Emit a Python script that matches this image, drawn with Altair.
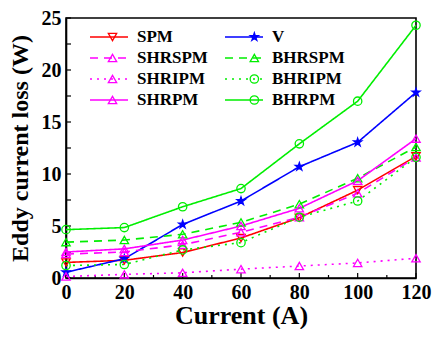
import altair as alt
import pandas as pd
import math

current = [0, 20, 40, 60, 80, 100, 120]
series_order = ["SPM", "V", "SHRSPM", "BHRSPM", "SHRIPM", "BHRIPM", "SHRPM", "BHRPM"]
SPM = [1.5, 1.7, 2.45, 3.85, 5.8, 8.45, 11.7]
V = [0.55, 1.85, 5.15, 7.4, 10.7, 13.05, 17.85]
SHRSPM = [2.3, 2.5, 3.2, 4.4, 5.85, 8.15, 11.6]
BHRSPM = [3.45, 3.65, 4.2, 5.35, 7.1, 9.6, 12.6]
SHRIPM = [0.15, 0.35, 0.5, 0.85, 1.15, 1.45, 1.9]
BHRIPM = [1.2, 1.3, 2.7, 3.4, 5.85, 7.4, 11.6]
SHRPM = [2.5, 2.8, 3.65, 5.0, 6.7, 9.35, 13.4]
BHRPM = [4.65, 4.85, 6.85, 8.6, 12.9, 17.0, 24.3]

y_ticks = [0, 5, 10, 15, 20, 25]
x_minor = [10, 30, 50, 70, 90, 110]
y_minor = [2.5, 7.5, 12.5, 17.5, 22.5]

values = {"SPM": SPM, "V": V, "SHRSPM": SHRSPM, "BHRSPM": BHRSPM,
          "SHRIPM": SHRIPM, "BHRIPM": BHRIPM, "SHRPM": SHRPM, "BHRPM": BHRPM}
rows = []
for s in series_order:
    for c, v in zip(current, values[s]):
        rows.append({"current": c, "loss": v, "series": s})
df = pd.DataFrame(rows)

colors = ["#FF0000", "#0000FF", "#FF00FF", "#00EE00", "#FF00FF", "#00EE00", "#FF00FF", "#00EE00"]
dashes = [[1, 0], [1, 0], [8, 6], [8, 6], [2, 5], [2, 5], [1, 0], [1, 0]]
star = ("M0,-1L0.223,-0.307L0.951,-0.309L0.361,0.117L0.588,0.809L0,0.38"
        "L-0.588,0.809L-0.361,0.117L-0.951,-0.309L-0.223,-0.307Z")
shapes = ["triangle-down", star, "triangle-up", "triangle-up", "triangle-up",
          "circle", "triangle-up", "circle"]
fills = ["transparent", "#0000FF", "transparent", "transparent", "transparent",
         "transparent", "transparent", "transparent"]

FONT = "Liberation Serif"
W, H = 350, 260
LX, LY = 23, 9
LINE_SIZE = 38 * 38
LINE_SW = 1.6
PT_SIZE = 70
PT_SW = 1.3
OFF = 8
LABEL_FS = 17
CP = 16
ws = math.ceil(math.sqrt(LINE_SIZE) + LINE_SW)
wp = math.ceil(math.sqrt(PT_SIZE) + PT_SW)
shift = ws / 2 - wp / 2
lw_col1 = 4.167 * LABEL_FS  # width of "SHRSPM" in a Times-metric bold font

common_leg = dict(orient="none", columns=2, direction="horizontal", title=None,
                  labelFont=FONT, labelFontWeight="bold", labelFontSize=LABEL_FS,
                  labelColor="black", rowPadding=1, symbolLimit=0, clipHeight=20)

line_leg = alt.Legend(legendX=LX, legendY=LY, symbolType="stroke",
                      symbolSize=LINE_SIZE, symbolStrokeWidth=LINE_SW,
                      labelOffset=OFF, columnPadding=CP, **common_leg)
point_leg = alt.Legend(legendX=LX + shift, legendY=LY,
                       symbolSize=PT_SIZE, symbolStrokeWidth=PT_SW,
                       labelOffset=0, labelExpr="''",
                       columnPadding=ws - wp + OFF + lw_col1 + CP,
                       **common_leg)

x = alt.X("current:Q", title="Current (A)",
          scale=alt.Scale(domain=[0, 120], nice=False),
          axis=alt.Axis(values=current, grid=False, labelFlush=False))
y = alt.Y("loss:Q", title="Eddy current loss (W)",
          scale=alt.Scale(domain=[0, 25], nice=False),
          axis=alt.Axis(values=y_ticks, grid=False, labelFlush=False))

cscale = alt.Scale(domain=series_order, range=colors)

lines = alt.Chart(df).mark_line(strokeWidth=1.6).encode(
    x=x, y=y,
    color=alt.Color("series:N", scale=cscale, legend=line_leg),
    strokeDash=alt.StrokeDash("series:N",
                              scale=alt.Scale(domain=series_order, range=dashes),
                              legend=line_leg),
)

points = alt.Chart(df).mark_point(filled=False, size=PT_SIZE, strokeWidth=PT_SW, opacity=1).encode(
    x=x, y=y,
    color=alt.Color("series:N", scale=cscale, legend=point_leg),
    shape=alt.Shape("series:N",
                    scale=alt.Scale(domain=series_order, range=shapes),
                    legend=point_leg),
    fill=alt.Fill("series:N",
                  scale=alt.Scale(domain=series_order, range=fills),
                  legend=point_leg),
)

# inward axis ticks (major and minor)
x_tick_major = alt.Chart(pd.DataFrame({"current": current})).mark_rule(
    color="black", strokeWidth=1.2).encode(
    x=alt.X("current:Q"), y=alt.value(H), y2=alt.value(H - 5))
x_tick_minor = alt.Chart(pd.DataFrame({"current": x_minor})).mark_rule(
    color="black", strokeWidth=1.2).encode(
    x=alt.X("current:Q"), y=alt.value(H), y2=alt.value(H - 3))
y_tick_all = alt.Chart(pd.DataFrame({"loss": y_ticks + y_minor})).mark_rule(
    color="black", strokeWidth=1.2).encode(
    y=alt.Y("loss:Q"), x=alt.value(0), x2=alt.value(5))

chart = alt.layer(x_tick_major, x_tick_minor, y_tick_all, lines, points).resolve_legend(
    color="independent", shape="independent", strokeDash="independent", fill="independent"
).properties(
    width=W, height=H,
    autosize=alt.AutoSizeParams(type="none"),
    padding={"left": 58, "top": 10, "right": 16, "bottom": 51},
).configure_view(
    stroke="black", strokeWidth=1.6
).configure_axis(
    domainColor="black", domainWidth=1.6, ticks=False, tickSize=0,
    labelFont=FONT, labelFontWeight="bold", labelFontSize=20,
    labelColor="black", titleFont=FONT, titleFontWeight="bold",
    titleColor="black",
).configure_axisX(labelPadding=4, titlePadding=0, titleFontSize=26).configure_axisY(
    labelPadding=5, titlePadding=9, titleFontSize=24)

chart.save("out.html", embed_options={"renderer": "svg", "actions": False})
